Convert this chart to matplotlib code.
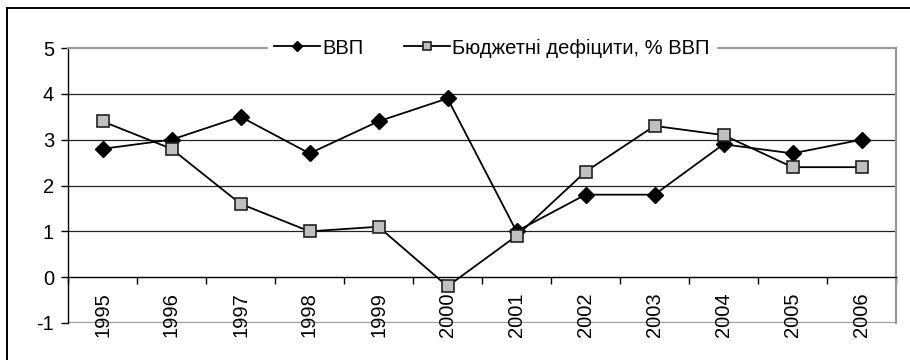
import numpy as np
import matplotlib
matplotlib.use("Agg")
import matplotlib.pyplot as plt
from matplotlib.patches import Rectangle

plt.rcParams['font.family'] = ['Liberation Sans', 'DejaVu Sans']
plt.rcParams['font.size'] = 14.5
plt.rcParams['axes.unicode_minus'] = False

# data
years = ['1995', '1996', '1997', '1998', '1999', '2000',
         '2001', '2002', '2003', '2004', '2005', '2006']
gdp = [2.8, 3.0, 3.5, 2.7, 3.4, 3.9, 1.0, 1.8, 1.8, 2.9, 2.7, 3.0]
deficit = [3.4, 2.8, 1.6, 1.0, 1.1, -0.2, 0.9, 2.3, 3.3, 3.1, 2.4, 2.4]
yticks = [-1, 0, 1, 2, 3, 4, 5]

fig = plt.figure(figsize=(9.1, 3.6), dpi=100)
ax = fig.add_axes([68 / 910, 1 - 323 / 360, 828 / 910, 275 / 360])

# outer frame of the chart area (right/bottom cut off in the original)
fig.patches.append(Rectangle((7 / 910, -0.1), 1.2, 1 - 8 / 360 + 0.1,
                             transform=fig.transFigure, fill=False,
                             edgecolor='black', linewidth=1.4))

x = np.arange(len(years)) + 0.5

for v in yticks[2:-1]:
    ax.axhline(v, color='#222222', linewidth=0.9, zorder=1)
ax.axhline(-1, color='#999999', linewidth=1.6, zorder=1)

ax.plot(x, gdp, color='black', linewidth=1.3, marker='D', markersize=8,
        markerfacecolor='black', markeredgecolor='black', label='ВВП', zorder=3)
ax.plot(x, deficit, color='black', linewidth=1.3, marker='s', markersize=9,
        markerfacecolor='#c0c0c0', markeredgecolor='#222222', markeredgewidth=1.2,
        label='Бюджетні дефіцити, % ВВП', zorder=3)

ax.set_xlim(0, len(years))
ax.set_ylim(-1, 5)
ax.set_yticks(yticks)

ax.spines['bottom'].set_position(('data', 0))
ax.spines['bottom'].set_color('black')
ax.spines['left'].set_color('black')
ax.spines['top'].set_color('#999999')
ax.spines['right'].set_color('#999999')
ax.spines['top'].set_linewidth(1.6)
ax.spines['right'].set_linewidth(1.6)
for s in ['bottom', 'left']:
    ax.spines[s].set_linewidth(1.0)

ax.set_xticks(np.arange(len(years) + 1))
ax.set_xticklabels([])
ax.set_xticks(x, minor=True)
ax.set_xticklabels(years, minor=True, rotation=90, va='top')
ax.tick_params(axis='x', which='major', direction='out', length=5, width=1)
ax.tick_params(axis='x', which='minor', length=0, pad=11)
ax.tick_params(axis='y', direction='out', length=5, width=1, pad=5)

leg = ax.legend(loc='center', bbox_to_anchor=(0.512, 1.0), ncol=2, frameon=True,
                fancybox=False, edgecolor='white', facecolor='white', framealpha=1,
                handlelength=2.3, handletextpad=0.1, columnspacing=2.0,
                markerscale=0.7, borderpad=0.3, fontsize=14.5)
leg.set_zorder(5)

fig.savefig('out.png', dpi=100)
